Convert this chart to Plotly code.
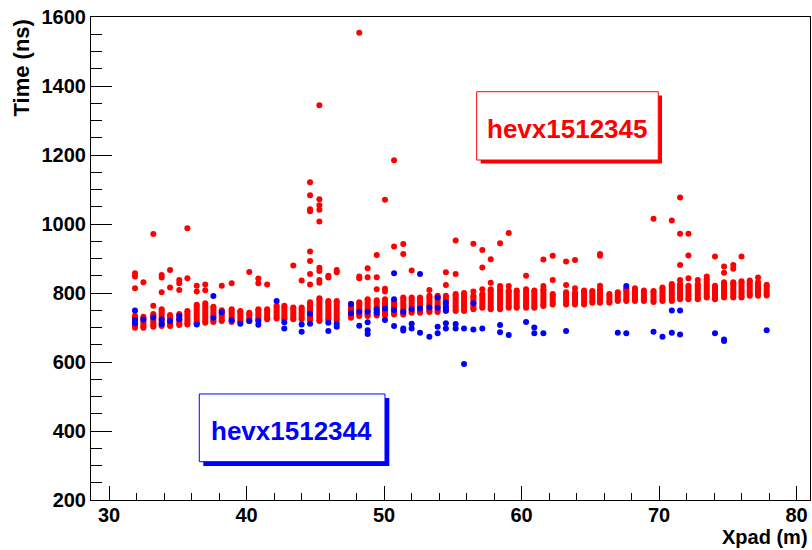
import plotly.graph_objects as go

# ---- data ----
# pad positions (m) of the red-series columns
pad_x = [31.89, 32.50, 33.22, 33.83, 34.44, 35.11, 35.70, 36.38, 37.00, 37.59,
         38.20, 38.92, 39.55, 40.20, 40.86, 41.50, 42.19, 42.75, 43.40, 44.01,
         44.62, 45.30, 45.95, 46.56, 47.60, 48.20, 48.81, 49.47, 50.07, 50.73,
         51.40, 52.01, 52.62, 53.30, 53.90, 54.50, 55.21, 55.82, 56.50, 57.15,
         57.76, 58.44, 59.07, 59.65, 60.33, 60.93, 61.59, 62.27, 63.24, 63.89,
         64.55, 65.15, 65.71, 66.39, 67.00, 67.62, 68.25, 68.90, 69.60, 70.25,
         70.93, 71.53, 72.14, 72.82, 73.47, 74.07, 74.73, 75.40, 76.00, 76.60,
         77.20, 77.83]
# lowest / highest point of the dense red cluster in each column (ns)
red_lo = [699, 699, 702, 704, 704, 707, 709, 712, 714, 716,
          719, 716, 716, 719, 722, 724, 726, 724, 724, 724,
          722, 719, 722, 722, 728, 733, 733, 735, 735, 738,
          738, 743, 743, 745, 745, 748, 748, 748, 753, 757,
          753, 753, 757, 757, 757, 757, 762, 767, 767, 767,
          767, 772, 772, 772, 777, 777, 777, 777, 774, 777,
          777, 782, 782, 782, 787, 782, 787, 787, 787, 792,
          792, 793]
red_hi = [734, 731, 739, 753, 736, 739, 748, 766, 770, 760,
          750, 753, 748, 743, 753, 753, 763, 763, 758, 758,
          773, 785, 777, 777, 768, 773, 782, 779, 782, 777,
          787, 787, 787, 792, 792, 792, 797, 800, 792, 797,
          811, 811, 807, 807, 811, 807, 811, 797, 802, 802,
          807, 806, 811, 797, 802, 814, 814, 807, 806, 816,
          826, 826, 821, 826, 840, 821, 831, 831, 834, 836,
          831, 824]

# isolated red points (hevx1512345)
red_out_x = [31.89, 31.89, 31.89, 32.50, 33.22, 33.22, 33.83, 33.83, 33.83,
             34.44, 34.44, 35.11, 35.11, 35.11, 35.70, 35.70, 36.38, 36.38,
             37.00, 37.00, 38.20, 38.92, 40.20, 40.86, 40.86, 41.50, 43.40, 44.01,
             44.62, 44.62, 44.62, 44.62, 44.62, 44.62, 44.62, 44.62,
             45.30, 45.30, 45.30, 45.30, 45.30, 45.30, 45.30, 45.30, 45.30,
             45.95, 45.95, 46.56, 46.56, 48.20, 48.20, 48.20, 48.81, 48.81,
             49.47, 49.47, 49.47, 50.07, 50.07, 50.07, 50.73, 50.73,
             51.40, 51.40, 52.01, 53.30, 54.50, 54.50, 55.21, 55.21,
             56.50, 56.50, 57.15, 57.15, 57.15, 57.76, 57.76, 58.44, 58.44,
             59.07, 59.07, 60.33, 61.59, 61.59, 62.27, 62.27, 63.24, 63.24,
             63.89, 63.89, 65.71, 65.71, 65.71, 69.60, 70.93,
             71.53, 71.53, 71.53, 71.53, 72.14, 72.14, 72.14, 72.82, 73.47,
             74.07, 74.73, 74.73, 75.40, 75.40, 76.00, 77.20]
red_out_y = [857, 848, 814, 831, 971, 763, 852, 845, 802,
             867, 816, 838, 828, 809, 988, 843, 821, 804,
             825, 808, 821, 828, 861, 842, 828, 825, 880, 836,
             1121, 1083, 1043, 1037, 920, 893, 855, 825,
             1344, 1072, 1054, 1041, 1007, 873, 864, 838, 830,
             850, 845, 867, 860, 1554, 848, 843, 872, 846,
             910, 846, 811, 1070, 812, 804, 1185, 935,
             942, 913, 865, 809, 860, 823, 952, 855,
             943, 804, 925, 874, 811, 898, 830, 944, 820,
             974, 820, 850, 897, 820, 908, 838, 891, 823,
             896, 814, 913, 908, 821, 1015, 1010,
             1077, 972, 881, 838, 972, 909, 843, 838, 848,
             906, 877, 859, 881, 870, 906, 845]

# blue points (hevx1512344)
blue_x = [31.89, 31.89, 31.89, 32.50, 33.22, 33.83, 33.83, 34.44, 35.11, 35.11,
          36.38, 37.59, 37.59, 38.20, 38.92, 39.55, 40.20, 40.86, 40.86, 42.19,
          42.75, 42.75, 44.01, 44.01, 44.62, 44.62, 45.95, 45.95, 46.56, 46.56,
          47.60, 47.60, 48.20, 48.20, 48.81, 48.81, 48.81, 48.81, 49.47, 49.47,
          50.07, 50.07, 50.73, 50.73, 50.73, 50.73, 51.40, 51.40, 51.40,
          52.01, 52.01, 52.01, 52.62, 52.62, 52.62, 53.30, 53.30,
          53.90, 53.90, 53.90, 53.90, 54.50, 54.50, 54.50, 54.50, 54.50,
          55.21, 55.21, 55.82, 55.82, 56.50, 56.50, 57.15, 58.44, 58.44, 59.07,
          60.33, 60.93, 60.93, 61.59, 63.24, 67.00, 67.62, 67.62, 69.60, 70.25,
          70.93, 70.93, 71.53, 71.53, 74.07, 74.73, 74.73, 77.83]
blue_y = [749, 722, 712, 723, 729, 723, 710, 719, 734, 724,
          709, 791, 728, 744, 721, 711, 719, 719, 708, 777,
          715, 697, 709, 688, 740, 711, 714, 690, 711, 702,
          768, 741, 746, 705, 746, 715, 692, 681, 753, 743,
          755, 722, 857, 782, 751, 704, 746, 697, 691,
          753, 711, 697, 855, 755, 685, 758, 673,
          787, 757, 702, 683, 772, 758, 749, 712, 697,
          710, 697, 697, 594, 770, 694, 697, 707, 686, 678,
          716, 700, 683, 683, 690, 685, 820, 683, 688, 673,
          749, 685, 749, 680, 683, 665, 661, 692]

x_range = [28.69, 80.98]
y_range = [200, 1600]
x_title = "Xpad (m)"
y_title = "Time (ns)"
label_red = "hevx1512345"
label_blue = "hevx1512344"

RED = "#ff0000"
BLUE = "#0000ff"
FONT = "Liberation Sans, Arial, sans-serif"

band_x, band_y = [], []
for x, lo, hi in zip(pad_x, red_lo, red_hi):
    band_x += [x, x, None]
    band_y += [lo, hi, None]

fig = go.Figure()
fig.add_trace(go.Scatter(x=band_x, y=band_y, mode="lines+markers",
                         line=dict(color=RED, width=6),
                         marker=dict(color=RED, size=6),
                         showlegend=False, hoverinfo="skip"))
fig.add_trace(go.Scatter(x=red_out_x, y=red_out_y, mode="markers",
                         marker=dict(color=RED, size=6), showlegend=False))
fig.add_trace(go.Scatter(x=blue_x, y=blue_y, mode="markers",
                         marker=dict(color=BLUE, size=6), showlegend=False))

axis_common = dict(showgrid=False, zeroline=False, showline=True,
                   linecolor="black", linewidth=1, mirror=True,
                   ticks="inside", tickcolor="black", tickwidth=1,
                   tickfont=dict(family=FONT, size=20, color="black", weight="bold"))
fig.update_xaxes(range=x_range, tick0=0, dtick=10, ticklen=14, ticklabelstandoff=-3,
                 minor=dict(ticks="inside", dtick=2, ticklen=7, tickcolor="black"),
                 **axis_common)
fig.update_yaxes(range=y_range, tick0=0, dtick=200, ticklen=21,
                 minor=dict(ticks="inside", dtick=50, ticklen=11, tickcolor="black"),
                 **axis_common)

shapes = [
    # red label box: shadow then box
    dict(type="rect", xref="paper", yref="paper", x0=0.5420, x1=0.7942, y0=0.6967, y1=0.8375,
         fillcolor=RED, line=dict(width=0)),
    dict(type="rect", xref="paper", yref="paper", x0=0.5364, x1=0.7890, y0=0.7039, y1=0.8453,
         fillcolor="white", line=dict(color=RED, width=1)),
    # blue label box
    dict(type="rect", xref="paper", yref="paper", x0=0.1562, x1=0.4149, y0=0.0704, y1=0.2112,
         fillcolor=BLUE, line=dict(width=0)),
    dict(type="rect", xref="paper", yref="paper", x0=0.1506, x1=0.4089, y0=0.0793, y1=0.2195,
         fillcolor="white", line=dict(color=BLUE, width=1)),
]

annotations = [
    dict(text=label_red, xref="paper", yref="paper", x=0.6623, y=0.7687,
         xanchor="center", yanchor="middle", showarrow=False,
         font=dict(family=FONT, size=26, color=RED, weight="bold")),
    dict(text=label_blue, xref="paper", yref="paper", x=0.2782, y=0.1432,
         xanchor="center", yanchor="middle", showarrow=False,
         font=dict(family=FONT, size=26, color=BLUE, weight="bold")),
    dict(text=y_title, xref="paper", yref="paper", x=-0.096, y=1.0,
         xanchor="center", yanchor="top", textangle=-90, showarrow=False,
         font=dict(family=FONT, size=22, color="black", weight="bold")),
    dict(text=x_title, xref="paper", yref="paper", x=1.0, y=-0.0766,
         xanchor="right", yanchor="middle", showarrow=False,
         font=dict(family=FONT, size=20, color="black", weight="bold")),
]

fig.update_layout(width=812, height=550,
                  margin=dict(l=91, r=2, t=17, b=50, pad=0),
                  paper_bgcolor="white", plot_bgcolor="white",
                  shapes=shapes, annotations=annotations, showlegend=False)

fig.write_html("out.html")
